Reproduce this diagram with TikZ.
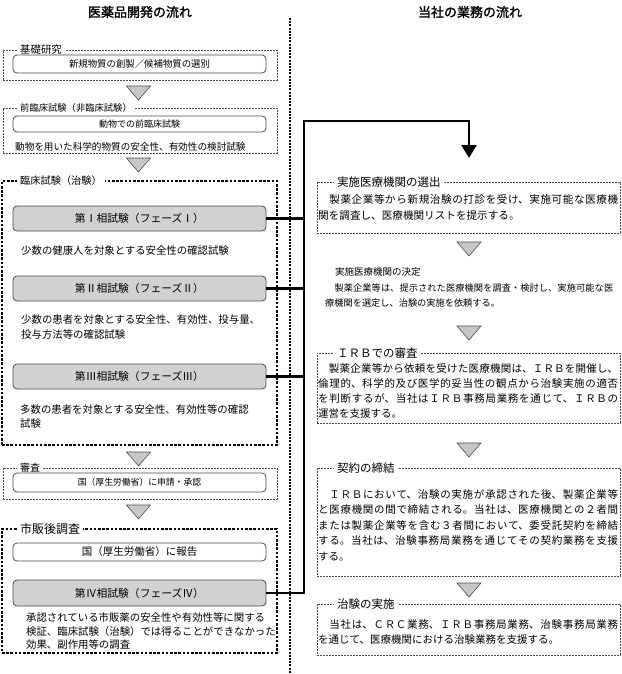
\documentclass[tikz,border=0pt]{standalone}
\usepackage{fontspec}
\setmainfont{Noto Sans CJK JP}
\newfontfamily\jpbold{Noto Sans CJK JP}[FakeBold=1.6]
\usetikzlibrary{arrows.meta}
\XeTeXlinebreaklocale "ja"
\XeTeXlinebreakskip=0pt plus 1.5pt
\definecolor{framecol}{gray}{0.3}
\definecolor{phasefill}{gray}{0.82}
\definecolor{trifill}{gray}{0.78}
\newcommand{\fs}[2]{\fontsize{#1}{#2}\selectfont}
\begin{document}
\begin{tikzpicture}[x=1pt,y=-1pt,
  thinframe/.style={draw=framecol, line width=0.6pt, dash pattern=on 1.8pt off 1.2pt, rectangle, inner sep=0pt},
  thickframe/.style={draw=black, line width=2.6pt, dash pattern=on 2.6pt off 1.6pt, rectangle, inner sep=0pt},
  framelabel/.style={fill=white, inner sep=3pt, anchor=west},
  whitebox/.style={draw=framecol, rounded corners=4pt, line width=0.8pt, minimum width=253pt, inner sep=0pt, fill=white},
  phasebox/.style={whitebox, fill=phasefill, minimum height=25pt, font=\fs{10.8}{13}},
  bodytext/.style={anchor=north west, align=left, inner sep=0pt},
  rtext/.style={anchor=north west, text width=300pt, align=justify, inner sep=0pt},
  conn/.style={line width=2.6pt, black, line join=miter},
  divider/.style={line width=2.2pt, dash pattern=on 2pt off 1.2pt},
  title/.style={font=\jpbold\fs{13}{15}},
  downtri/.pic={\draw[fill=trifill, draw=black!70, line width=0.6pt] (-12,0) -- (12,0) -- (0,14) -- cycle;}
]
\useasboundingbox (0,0) rectangle (621,674);

% titles
\node[title] (t-left) at (140,12) {医薬品開発の流れ};
\node[title] (t-right) at (470,12) {当社の業務の流れ};

% divider
\coordinate (dtop) at (290,18);
\coordinate (dbot) at (290,674);
\draw[divider] (dtop) -- (dbot);

%%%%% LEFT COLUMN
% basic research
\node[thinframe, minimum width=274pt, minimum height=30pt] (f-kiso) at (140,65) {};
\node[framelabel, font=\fs{10.4}{12}] (l-kiso) at (17,50) {基礎研究};
\node[whitebox, minimum height=18pt, font=\fs{9.4}{11}] (kiso) at (139.5,64) {新規物質の創製／候補物質の選別};
\pic at (138.5,86) {downtri};

% preclinical
\node[thinframe, minimum width=274pt, minimum height=45pt] (f-pre) at (140,130.5) {};
\node[framelabel, font=\fs{9.3}{11}] (l-pre) at (17,108) {前臨床試験（非臨床試験）};
\node[whitebox, minimum height=16pt, font=\fs{9}{11}] (pre) at (139.5,124) {動物での前臨床試験};
\node[bodytext, font=\fs{9.6}{12}] (pre-t) at (15,142.5) {動物を用いた科学的物質の安全性、有効性の検討試験};
\pic at (138.5,158) {downtri};

% clinical trial
\node[thickframe, minimum width=275pt, minimum height=264pt] (f-clin) at (139.5,313) {};
\node[framelabel, font=\fs{10.2}{12}] (l-clin) at (17,181) {臨床試験（治験）};
\node[phasebox] (p1) at (139.5,218.5) {第Ⅰ相試験（フェーズⅠ）};
\node[bodytext, font=\fs{10.4}{14}] (p1-t) at (21,246) {少数の健康人を対象とする安全性の確認試験};
\node[phasebox] (p2) at (139.5,288.5) {第Ⅱ相試験（フェーズⅡ）};
\node[bodytext, font=\fs{10.4}{15}] (p2-t) at (21,315) {少数の患者を対象とする安全性、有効性、投与量、\\投与方法等の確認試験};
\node[phasebox] (p3) at (139.5,376.5) {第Ⅲ相試験（フェーズⅢ）};
\node[bodytext, font=\fs{10.4}{14}] (p3-t) at (20,405) {多数の患者を対象とする安全性、有効性等の確認\\試験};
\pic at (138.5,452) {downtri};

% review
\node[thinframe, minimum width=274pt, minimum height=31pt] (f-rev) at (140,483.5) {};
\node[framelabel, font=\fs{10}{12}] (l-rev) at (17,468) {審査};
\node[whitebox, minimum height=19pt, font=\fs{8.8}{11}] (rev) at (139.5,482.5) {国（厚生労働省）に申請・承認};
\pic at (138.5,505) {downtri};

% post-marketing
\node[thickframe, minimum width=275pt, minimum height=124pt] (f-post) at (139.5,591) {};
\node[framelabel, font=\fs{12}{14}] (l-post) at (17,529) {市販後調査};
\node[whitebox, minimum height=18pt, font=\fs{10.5}{12}] (post) at (139.5,552) {国（厚生労働省）に報告};
\node[phasebox, minimum height=26pt] (p4) at (139.5,593) {第Ⅳ相試験（フェーズⅣ）};
\node[bodytext, font=\fs{10.4}{13.5}] (p4-t) at (26,613) {承認されている市販薬の安全性や有効性等に関する\\検証、臨床試験（治験）では得ることができなかった\\効果、副作用等の調査};

%%%%% CONNECTORS
\coordinate (sp) at (304,121);
\coordinate (turn) at (469,121);
\coordinate (tip) at (469,158);
\draw[conn, -{Triangle[width=15pt,length=13pt]}] (p4.east) -| (sp) -- (turn) -- (tip);
\draw[conn] (p1.east) -- (p1.east -| sp);
\draw[conn] (p2.east) -- (p2.east -| sp);
\draw[conn] (p3.east) -- (p3.east -| sp);

%%%%% RIGHT COLUMN
\node[thinframe, minimum width=303pt, minimum height=51pt] (b1) at (468.5,207.5) {};
\node[framelabel, font=\fs{11.5}{13}] (l-b1) at (334,182) {実施医療機関の選出};
\node[rtext, font=\fs{10.6}{16}] (r1) at (318,194) {　製薬企業等から新規治験の打診を受け、実施可能な医療機\linebreak 関を調査し、医療機関リストを提示する。};
\pic at (469,242) {downtri};

\node[anchor=west, inner sep=0pt, font=\fs{9.5}{11}] (l-b2) at (335,272) {実施医療機関の決定};
\node[rtext, text width=288pt, font=\fs{9.2}{15}] (r2) at (325,284) {　製薬企業等は、提示された医療機関を調査・検討し、実施可能な医\linebreak 療機関を選定し、治験の実施を依頼する。};
\pic at (469,326) {downtri};

\node[thinframe, minimum width=303pt, minimum height=70pt] (b3) at (468.5,388) {};
\node[framelabel, font=\fs{11.5}{13}] (l-b3) at (334,353) {ＩＲＢでの審査};
\node[rtext, font=\fs{10.5}{15}] (r3) at (318,363.5) {　製薬企業等から依頼を受けた医療機関は、ＩＲＢを開催し、\linebreak 倫理的、科学的及び医学的妥当性の観点から治験実施の適否\linebreak を判断するが、当社はＩＲＢ事務局業務を通じて、ＩＲＢの\linebreak 運営を支援する。};
\pic at (469,443) {downtri};

\node[thinframe, minimum width=303pt, minimum height=108pt] (b4) at (468.5,522) {};
\node[framelabel, font=\fs{11.5}{13}] (l-b4) at (334,468) {契約の締結};
\node[rtext, font=\fs{10.5}{15.5}] (r4) at (318,489) {　ＩＲＢにおいて、治験の実施が承認された後、製薬企業等\linebreak と医療機関の間で締結される。当社は、医療機関との２者間\linebreak または製薬企業等を含む３者間において、委受託契約を締結\linebreak する。当社は、治験事務局業務を通じてその契約業務を支援\linebreak する。};
\pic at (469,583) {downtri};

\node[thinframe, minimum width=303pt, minimum height=51pt] (b5) at (468.5,629.5) {};
\node[framelabel, font=\fs{11.5}{13}] (l-b5) at (334,604) {治験の実施};
\node[rtext, font=\fs{10.5}{15.5}] (r5) at (318,619) {　当社は、ＣＲＣ業務、ＩＲＢ事務局業務、治験事務局業務\linebreak を通じて、医療機関における治験業務を支援する。};
\end{tikzpicture}
\end{document}
